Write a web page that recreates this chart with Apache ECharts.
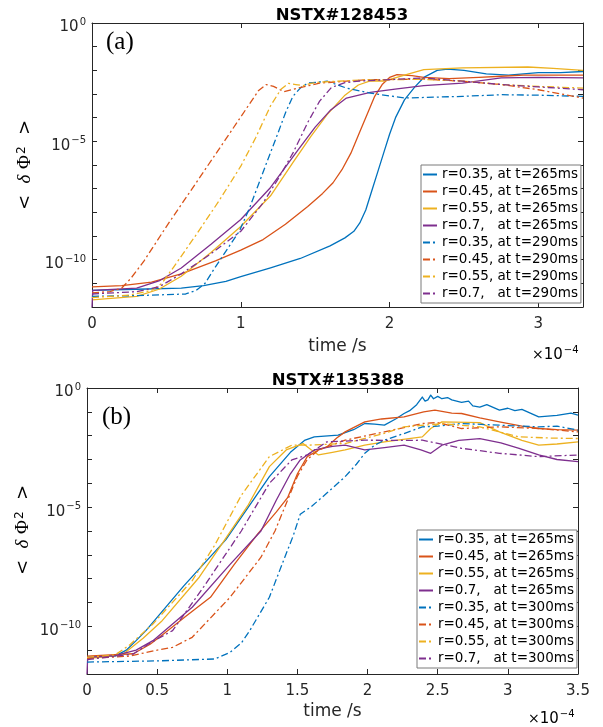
<!DOCTYPE html>
<html><head><meta charset="utf-8">
<script src="https://cdn.jsdelivr.net/npm/echarts@6/dist/echarts.min.js"></script>
<style>html,body{margin:0;padding:0;background:#fff}#c{width:603px;height:727px}</style>
</head><body><div id="c"></div>
<script>
// ---------- DATA (time in units of 1e-4 s, value given as log10 exponent) ----------
const titleA = 'NSTX#128453';
const titleB = 'NSTX#135388';
const xTicksA = [0, 1, 2, 3];
const xTicksB = [0, 0.5, 1, 1.5, 2, 2.5, 3, 3.5];
const yTickExponents = [0, -5, -10];

const namesA = ['r=0.35, at t=265ms','r=0.45, at t=265ms','r=0.55, at t=265ms','r=0.7,   at t=265ms',
                'r=0.35, at t=290ms','r=0.45, at t=290ms','r=0.55, at t=290ms','r=0.7,   at t=290ms'];
const namesB = ['r=0.35, at t=265ms','r=0.45, at t=265ms','r=0.55, at t=265ms','r=0.7,   at t=265ms',
                'r=0.35, at t=300ms','r=0.45, at t=300ms','r=0.55, at t=300ms','r=0.7,   at t=300ms'];

// Panel (a)
const aBlueSolid = [[0,-11.3],[0.3,-11.25],[0.6,-11.2],[0.75,-11.1],[0.9,-10.92],[1.0,-10.72],[1.2,-10.35],[1.4,-9.95],[1.6,-9.42],[1.7,-9.08],[1.76,-8.8],[1.8,-8.45],[1.84,-7.9],[1.88,-7.1],[1.92,-6.3],[1.96,-5.5],[2.0,-4.7],[2.04,-4.0],[2.1,-3.25],[2.17,-2.7],[2.23,-2.3],[2.32,-2.0],[2.39,-1.95],[2.5,-2.0],[2.65,-2.15],[2.8,-2.2],[3.0,-2.1],[3.15,-2.1],[3.3,-2.05]];
const aOrangeSolid = [[0,-11.15],[0.2,-11.1],[0.4,-10.95],[0.6,-10.6],[0.83,-10.05],[1.0,-9.6],[1.15,-9.15],[1.3,-8.5],[1.45,-7.75],[1.55,-7.2],[1.62,-6.75],[1.68,-6.2],[1.74,-5.5],[1.8,-4.6],[1.86,-3.7],[1.9,-3.1],[1.95,-2.6],[2.0,-2.3],[2.05,-2.18],[2.15,-2.22],[2.23,-2.3],[2.4,-2.35],[2.6,-2.3],[2.75,-2.25],[2.9,-2.2],[3.1,-2.2],[3.3,-2.2]];
const aGoldSolid = [[0,-11.7],[0.3,-11.55],[0.45,-11.25],[0.6,-10.7],[0.8,-9.7],[1.0,-8.6],[1.2,-7.3],[1.35,-5.9],[1.47,-4.8],[1.58,-3.87],[1.7,-3.05],[1.79,-2.62],[1.87,-2.45],[1.97,-2.45],[2.1,-2.2],[2.23,-1.97],[2.49,-1.9],[2.93,-1.86],[3.1,-1.92],[3.3,-2.0]];
const aPurpleSolid = [[0,-12],[0.005,-11.3],[0.3,-11.2],[0.45,-10.9],[0.6,-10.35],[0.8,-9.35],[1.0,-8.3],[1.2,-6.95],[1.38,-5.4],[1.5,-4.4],[1.6,-3.7],[1.71,-3.17],[1.87,-2.93],[2.05,-2.78],[2.23,-2.65],[2.49,-2.54],[2.75,-2.32],[3.0,-2.3],[3.3,-2.32]];
const aBlueDashed = [[0,-11.55],[0.3,-11.52],[0.63,-11.45],[0.7,-11.3],[0.76,-11.0],[0.83,-10.3],[0.91,-9.55],[0.99,-8.8],[1.06,-7.8],[1.12,-6.8],[1.18,-5.8],[1.25,-4.65],[1.3,-3.8],[1.35,-3.1],[1.4,-2.75],[1.45,-2.54],[1.58,-2.46],[1.71,-2.75],[1.87,-2.96],[2.1,-3.17],[2.49,-3.1],[2.75,-3.03],[3.0,-3.05],[3.3,-3.1]];
const aOrangeDashed = [[0,-11.4],[0.12,-11.35],[0.2,-11.2],[0.26,-10.8],[0.35,-10.05],[0.5,-8.6],[0.7,-6.75],[0.9,-4.9],[1.05,-3.5],[1.12,-2.85],[1.17,-2.6],[1.22,-2.68],[1.29,-2.9],[1.38,-2.76],[1.53,-2.54],[1.84,-2.4],[2.23,-2.37],[2.49,-2.46],[2.75,-2.6],[3.0,-2.82],[3.3,-3.17]];
const aGoldDashed = [[0,-11.6],[0.25,-11.5],[0.4,-11.3],[0.47,-11.0],[0.55,-10.3],[0.7,-8.95],[0.85,-7.55],[1.0,-6.05],[1.1,-4.85],[1.2,-3.5],[1.27,-2.8],[1.32,-2.55],[1.37,-2.6],[1.42,-2.65],[1.47,-2.55],[1.53,-2.5],[1.84,-2.4],[2.23,-2.38],[2.49,-2.45],[2.75,-2.6],[3.0,-2.68],[3.3,-2.75]];
const aPurpleDashed = [[0,-11.45],[0.3,-11.35],[0.45,-11.15],[0.6,-10.6],[0.8,-9.75],[1.0,-8.8],[1.15,-7.6],[1.25,-6.6],[1.35,-5.5],[1.45,-4.2],[1.53,-3.3],[1.61,-2.72],[1.7,-2.52],[1.8,-2.45],[1.97,-2.4],[2.23,-2.32],[2.49,-2.46],[2.75,-2.6],[3.0,-2.7],[3.3,-2.82]];

// Panel (b)
const bBlueSolid = [[0,-11.3],[0.2,-11.25],[0.28,-11.0],[0.35,-10.6],[0.42,-10.18],[0.69,-8.3],[0.99,-6.36],[1.15,-5.0],[1.3,-3.72],[1.45,-2.7],[1.55,-2.2],[1.62,-2.05],[1.79,-1.98],[1.9,-1.75],[1.98,-1.49],[2.05,-1.52],[2.12,-1.56],[2.2,-1.3],[2.26,-1.07],[2.3,-0.95],[2.35,-0.7],[2.39,-0.38],[2.41,-0.55],[2.43,-0.5],[2.45,-0.3],[2.47,-0.45],[2.5,-0.35],[2.53,-0.45],[2.57,-0.4],[2.6,-0.5],[2.67,-0.6],[2.72,-0.55],[2.75,-0.75],[2.8,-0.8],[2.85,-0.7],[2.94,-0.93],[3.0,-0.85],[3.05,-0.95],[3.1,-0.9],[3.22,-1.21],[3.35,-1.15],[3.45,-1.05],[3.5,-1.14]];
const bOrangeSolid = [[0,-11.25],[0.33,-11.15],[0.45,-10.75],[0.55,-10.3],[0.7,-9.6],[0.88,-8.78],[1.05,-7.4],[1.22,-6.1],[1.35,-5.2],[1.43,-4.6],[1.5,-3.6],[1.57,-2.88],[1.65,-2.6],[1.71,-2.47],[1.78,-2.1],[1.84,-1.84],[1.98,-1.42],[2.1,-1.3],[2.26,-1.21],[2.4,-1.0],[2.48,-0.93],[2.6,-1.05],[2.67,-1.07],[2.8,-1.25],[2.94,-1.42],[3.1,-1.6],[3.22,-1.7],[3.35,-1.75],[3.5,-1.77]];
const bGoldSolid = [[0,-11.35],[0.25,-11.2],[0.4,-10.5],[0.53,-9.8],[0.8,-7.94],[0.99,-6.3],[1.15,-4.9],[1.3,-3.3],[1.42,-2.6],[1.54,-2.33],[1.6,-2.6],[1.65,-2.81],[1.75,-2.7],[1.84,-2.6],[1.98,-2.4],[2.12,-2.26],[2.39,-2.05],[2.45,-1.7],[2.53,-1.42],[2.8,-1.45],[2.94,-1.84],[3.1,-2.2],[3.22,-2.4],[3.35,-2.35],[3.5,-2.26]];
const bPurpleSolid = [[0,-12],[0.005,-11.3],[0.2,-11.23],[0.35,-11.0],[0.47,-10.6],[0.75,-9.2],[1.02,-7.4],[1.24,-6.0],[1.35,-4.7],[1.45,-3.6],[1.52,-3.02],[1.62,-2.6],[1.75,-2.45],[1.84,-2.4],[1.98,-2.6],[2.12,-2.5],[2.26,-2.4],[2.38,-2.6],[2.45,-2.74],[2.53,-2.4],[2.65,-2.2],[2.8,-2.12],[2.95,-2.3],[3.08,-2.53],[3.22,-2.81],[3.35,-3.0],[3.5,-3.09]];
const bBlueDashed = [[0,-11.5],[0.5,-11.45],[0.91,-11.37],[1.02,-11.09],[1.1,-10.7],[1.16,-10.18],[1.3,-8.78],[1.41,-7.1],[1.47,-6.2],[1.52,-5.3],[1.6,-4.97],[1.71,-4.41],[1.84,-3.72],[1.92,-3.2],[1.98,-2.74],[2.05,-2.4],[2.12,-2.19],[2.26,-1.91],[2.39,-1.63],[2.5,-1.6],[2.67,-1.49],[2.94,-1.56],[3.22,-1.63],[3.35,-1.6],[3.5,-1.77]];
const bOrangeDashed = [[0,-11.35],[0.3,-11.25],[0.5,-11.0],[0.61,-10.88],[0.75,-10.46],[1.02,-8.78],[1.24,-7.1],[1.34,-6.0],[1.43,-4.7],[1.5,-3.7],[1.57,-3.0],[1.65,-2.6],[1.84,-2.19],[2.12,-1.84],[2.39,-1.49],[2.5,-1.45],[2.67,-1.7],[2.94,-1.63],[3.22,-1.7],[3.5,-1.84]];
const bGoldDashed = [[0,-11.3],[0.2,-11.2],[0.3,-10.8],[0.47,-9.9],[0.75,-8.08],[0.91,-6.6],[1.1,-4.5],[1.3,-2.88],[1.46,-2.4],[1.57,-2.4],[1.84,-2.33],[2.12,-1.9],[2.26,-1.63],[2.53,-1.5],[2.8,-1.63],[3.08,-2.05],[3.3,-2.1],[3.5,-2.12]];
const bPurpleDashed = [[0,-11.4],[0.33,-11.16],[0.45,-10.7],[0.61,-10.18],[0.83,-8.36],[1.1,-6.0],[1.3,-4.0],[1.46,-3.02],[1.57,-2.81],[1.71,-2.26],[1.98,-2.19],[2.26,-2.2],[2.39,-2.19],[2.67,-2.53],[2.94,-2.74],[3.22,-2.88],[3.5,-2.81]];

// ---------- STYLE ----------
const C = {blue:'#0072BD', orange:'#D95319', gold:'#EDB120', purple:'#7E2F8E'};
const AX = '#262626';
const FONT = 'DejaVu Sans';
const dashDot = [7, 3, 2, 3];

function mk(name, pts, color, dashed, gi) {
  return {
    type: 'line', name: name, xAxisIndex: gi * 2, yAxisIndex: gi * 2,
    data: pts.map(p => [p[0], Math.pow(10, p[1])]),
    symbol: 'none', showSymbol: false, smooth: false,
    lineStyle: {color: color, width: 1.3, type: dashed ? dashDot : 'solid', join: 'round'},
    itemStyle: {color: color}, emphasis: {disabled: true}, silent: true
  };
}
const seriesA = [aBlueSolid, aOrangeSolid, aGoldSolid, aPurpleSolid, aBlueDashed, aOrangeDashed, aGoldDashed, aPurpleDashed];
const seriesB = [bBlueSolid, bOrangeSolid, bGoldSolid, bPurpleSolid, bBlueDashed, bOrangeDashed, bGoldDashed, bPurpleDashed];
const cols = [C.blue, C.orange, C.gold, C.purple, C.blue, C.orange, C.gold, C.purple];
const series = [];
seriesA.forEach((d, i) => series.push(mk(namesA[i], d, cols[i], i >= 4, 0)));
seriesB.forEach((d, i) => series.push(mk(namesB[i], d, cols[i], i >= 4, 1)));

const supRich = {
  b: {fontFamily: FONT, fontSize: 15, lineHeight: 15, color: AX, padding: [9, 0, 0, 0]},
  s: {fontFamily: FONT, fontSize: 10, lineHeight: 10, color: AX, verticalAlign: 'top', padding: [2, 0, 0, 1]},
  m: {fontFamily: FONT, fontSize: 14, lineHeight: 14, color: AX, padding: [9, 0, 0, 0]}
};
function expLabel(v) {
  const e = Math.round(Math.log10(v));
  if (yTickExponents.indexOf(e) < 0) return '';
  return '{b|10}{s|' + (e < 0 ? '\u2212' + (-e) : e) + '}';
}
function xAxisPair(gi, ticks, gap) {
  const step = ticks[1] - ticks[0];
  const base = {
    gridIndex: gi, type: 'value', min: ticks[0], max: gi === 0 ? 3.3 : ticks[ticks.length - 1], interval: step,
    axisLine: {show: true, onZero: false, lineStyle: {color: AX, width: 1}},
    axisTick: {show: true, inside: true, length: 5, lineStyle: {color: AX}},
    splitLine: {show: false}
  };
  return [
    Object.assign({}, base, {position: 'bottom',
      axisLabel: {show: true, margin: 10, color: AX, fontFamily: FONT, fontSize: 15, showMaxLabel: gi !== 0,
        formatter: v => (ticks.indexOf(+v.toFixed(2)) >= 0 ? String(+v.toFixed(2)) : '')},
      name: 'time /s', nameLocation: 'middle', nameGap: gap,
      nameTextStyle: {color: AX, fontFamily: FONT, fontSize: 17}}),
    Object.assign({}, base, {position: 'top', axisLabel: {show: false}})
  ];
}
function yAxisPair(gi) {
  const base = {
    gridIndex: gi, type: 'log', logBase: 10, min: 1e-12, max: 1, interval: 1,
    axisLine: {show: true, onZero: false, lineStyle: {color: AX, width: 1}},
    axisTick: {show: true, inside: true, length: 5, lineStyle: {color: AX}},
    splitLine: {show: false}, minorTick: {show: false}
  };
  return [
    Object.assign({}, base, {position: 'left',
      axisLabel: {show: true, margin: 6, formatter: expLabel, rich: supRich}}),
    Object.assign({}, base, {position: 'right', axisLabel: {show: false}})
  ];
}

const legendBase = {
  orient: 'vertical', itemWidth: 14, itemHeight: 10, itemGap: 0,
  itemStyle: {opacity: 0},
  textStyle: {fontFamily: FONT, fontSize: 13.5, lineHeight: 17, color: '#000'},
  borderColor: '#7a7a7a', borderWidth: 1, backgroundColor: '#fff', padding: [1, 3, 1, 1],
  selectedMode: false
};

const yNameRich = {
  n: {fontFamily: FONT, fontSize: 18, color: AX},
  d: {fontFamily: 'Liberation Serif', fontStyle: 'italic', fontSize: 19, color: AX},
  p: {fontFamily: 'Liberation Serif', fontSize: 19, color: AX},
  s: {fontFamily: FONT, fontSize: 12, color: AX, verticalAlign: 'top', padding: [0, 0, 0, 1]}
};
const yNameText = '{n|<  }{d|δ}{n| }{p|Φ}{s|2}{n|  >}';

const option = {
  animation: false,
  backgroundColor: '#fff',
  title: [
    {text: titleA, left: 337, top: 2, textAlign: 'center',
     textStyle: {fontFamily: FONT, fontWeight: 'bold', fontSize: 16.5, color: '#000'}},
    {text: titleB, left: 333, top: 367, textAlign: 'center',
     textStyle: {fontFamily: FONT, fontWeight: 'bold', fontSize: 16.5, color: '#000'}}
  ],
  grid: [
    {left: 92, top: 23, width: 491, height: 284},
    {left: 87, top: 388, width: 491, height: 286}
  ],
  xAxis: [].concat(xAxisPair(0, xTicksA, 31), xAxisPair(1, xTicksB, 29)),
  yAxis: [].concat(yAxisPair(0), yAxisPair(1)),
  legend: [
    Object.assign({}, legendBase, {left: 421, top: 165, data: namesA}),
    Object.assign({}, legendBase, {left: 417, top: 530, data: namesB})
  ],
  graphic: [
    {type: 'text', left: 106, top: 30, style: {text: '(a)', font: '25px "Liberation Serif"', fill: '#000'}},
    {type: 'text', left: 102, top: 405, style: {text: '(b)', font: '25px "Liberation Serif"', fill: '#000'}},
    {type: 'text', x: 532, y: 351, style: {text: '{m|×}{b|10}{s|\u22124}', rich: supRich, align: 'left', verticalAlign: 'middle'}},
    {type: 'text', x: 528, y: 715, style: {text: '{m|×}{b|10}{s|\u22124}', rich: supRich, align: 'left', verticalAlign: 'middle'}},
    {type: 'text', x: 25, y: 165, rotation: Math.PI / 2, style: {text: yNameText, rich: yNameRich, align: 'center', verticalAlign: 'middle'}},
    {type: 'text', x: 23, y: 530, rotation: Math.PI / 2, style: {text: yNameText, rich: yNameRich, align: 'center', verticalAlign: 'middle'}}
  ],
  series: series
};

const chart = echarts.init(document.getElementById('c'), null, {renderer: 'canvas', width: 603, height: 727});
chart.setOption(option);
</script></body></html>
